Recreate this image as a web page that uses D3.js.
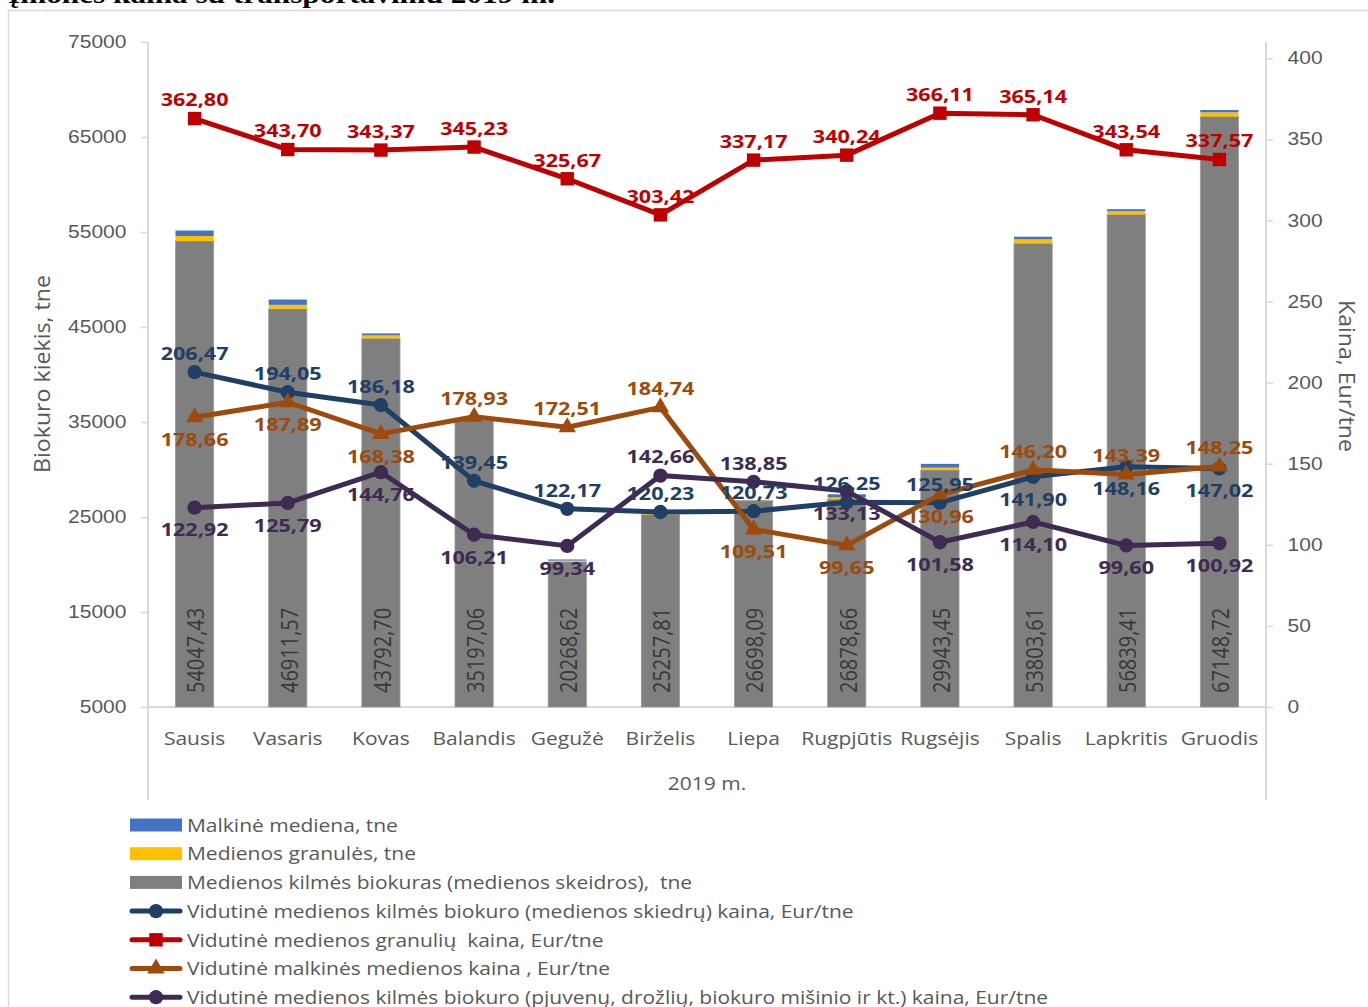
<!DOCTYPE html>
<html>
<head>
<meta charset="utf-8">
<script src="https://cdn.jsdelivr.net/npm/d3@7"></script>
<style>
  body { margin: 0; background: #fff; }
  svg { display: block; font-family: "Open Sans", sans-serif; }
  text { white-space: pre; }
</style>
</head>
<body>
<svg id="chart" width="1368" height="1007"></svg>
<script>
// Data
const months = ['Sausis', 'Vasaris', 'Kovas', 'Balandis', 'Gegužė', 'Birželis', 'Liepa', 'Rugpjūtis', 'Rugsėjis', 'Spalis', 'Lapkritis', 'Gruodis'];

// stacked bars, tne
const skiedros = [54047.43, 46911.57, 43792.70, 35197.06, 20268.62, 25257.81, 26698.09, 26878.66, 29943.45, 53803.61, 56839.41, 67148.72];
const granules = [530, 420, 320, 100, 140, 80, 60, 180, 250, 420, 350, 450];
const malkine = [580, 560, 210, 80, 120, 80, 40, 330, 400, 280, 210, 240];

// prices, Eur/tne
const kainaSkiedru = [206.47, 194.05, 186.18, 139.45, 122.17, 120.23, 120.73, 126.25, 125.95, 141.90, 148.16, 147.02];
const kainaGranuliu = [362.80, 343.70, 343.37, 345.23, 325.67, 303.42, 337.17, 340.24, 366.11, 365.14, 343.54, 337.57];
const kainaMalkines = [178.66, 187.89, 168.38, 178.93, 172.51, 184.74, 109.51, 99.65, 130.96, 146.20, 143.39, 148.25];
const kainaPjuvenu = [122.92, 125.79, 144.76, 106.21, 99.34, 142.66, 138.85, 133.13, 101.58, 114.10, 99.60, 100.92];

// which side of the point each data label sits on (a = above, b = below)
const posSkiedru = ['a', 'a', 'a', 'a', 'a', 'a', 'a', 'a', 'a', 'b', 'b', 'b'];
const posGranuliu = ['a', 'a', 'a', 'a', 'a', 'a', 'a', 'a', 'a', 'a', 'a', 'a'];
const posMalkines = ['b', 'b', 'b', 'a', 'a', 'a', 'b', 'b', 'b', 'a', 'a', 'a'];
const posPjuvenu = ['b', 'b', 'b', 'b', 'b', 'a', 'a', 'b', 'b', 'b', 'b', 'b'];

const leftTicks = [5000, 15000, 25000, 35000, 45000, 55000, 65000, 75000];
const rightTicks = [0, 50, 100, 150, 200, 250, 300, 350, 400];

const SX = 1.2; // the original is horizontally stretched
const axisColor = '#d9d9d9';
const textColor = '#595959';
const fmt = v => d3.format('.2f')(v).replace('.', ',');

const svg = d3.select('#chart');

// clipped title at the very top
svg.append('text')
  .attr('x', 8).attr('y', 3)
  .attr('font-family', '"Liberation Serif", serif')
  .attr('font-weight', 'bold')
  .attr('font-size', 26)
  .attr('textLength', 547)
  .attr('lengthAdjust', 'spacingAndGlyphs')
  .text('Įmonės kaina su transportavimu 2019 m.');

// chart frame
svg.append('rect')
  .attr('x', 8.5).attr('y', 10.5)
  .attr('width', 1400).attr('height', 1050)
  .attr('fill', 'none')
  .attr('stroke', axisColor)
  .attr('stroke-width', 1.5);

const plot = { left: 148, right: 1266, top: 42, bottom: 707 };

const x = d3.scaleBand()
  .domain(months)
  .range([plot.left, plot.right])
  .paddingInner(0.59)
  .paddingOuter(0.295);

const yL = d3.scaleLinear().domain([5000, 75000]).range([plot.bottom, plot.top]);
const yR = d3.scaleLinear().domain([0, 410]).range([plot.bottom, plot.top]);

// axes
function styleAxis(g) {
  g.select('.domain').remove();
  g.selectAll('.tick line').attr('stroke', axisColor).attr('stroke-width', 1.5);
  g.selectAll('.tick text')
    .attr('fill', textColor)
    .attr('font-size', 17.5)
    .attr('transform', `scale(${SX},1)`);
}

svg.append('g')
  .attr('transform', `translate(${plot.left},0)`)
  .call(d3.axisLeft(yL).tickValues(leftTicks).tickSize(7).tickPadding(11).tickFormat(d3.format('d')))
  .call(styleAxis);

svg.append('g')
  .attr('transform', `translate(${plot.right},0)`)
  .call(d3.axisRight(yR).tickValues(rightTicks).tickSize(7).tickPadding(11).tickFormat(d3.format('d')))
  .call(styleAxis);

// axis lines (extend down around the category labels)
[plot.left, plot.right].forEach(xx => {
  svg.append('line')
    .attr('x1', xx).attr('x2', xx)
    .attr('y1', plot.top).attr('y2', 800)
    .attr('stroke', axisColor).attr('stroke-width', 2);
});
svg.append('line')
  .attr('x1', plot.left).attr('x2', plot.right)
  .attr('y1', plot.bottom).attr('y2', plot.bottom)
  .attr('stroke', axisColor).attr('stroke-width', 2);

// stacked bars (axis starts at 5000, gray layer drawn from there)
const stackData = months.map((m, i) => ({ month: m, skiedros: skiedros[i], granules: granules[i], malkine: malkine[i] }));
const stack = d3.stack().keys(['skiedros', 'granules', 'malkine']);
const barColors = { skiedros: '#7f7f7f', granules: '#ffc000', malkine: '#4472c4' };

const layers = stack(stackData);
svg.append('g')
  .selectAll('g')
  .data(layers)
  .join('g')
  .attr('fill', d => barColors[d.key])
  .attr('stroke', d => d.key === 'skiedros' ? '#9a9a9a' : 'none')
  .attr('stroke-width', 0.8)
  .selectAll('rect')
  .data(d => d)
  .join('rect')
  .attr('x', d => x(d.data.month))
  .attr('width', x.bandwidth())
  .attr('y', d => yL(d[1]))
  .attr('height', d => yL(Math.max(d[0], 5000)) - yL(d[1]));

// values inside the gray bars
svg.append('g')
  .selectAll('text')
  .data(stackData)
  .join('text')
  .attr('transform', d => `translate(${x(d.month) + x.bandwidth() / 2},${plot.bottom - 14}) scale(${SX},1) rotate(-90)`)
  .attr('dominant-baseline', 'central')
  .attr('fill', '#383838')
  .attr('font-size', 20)
  .text(d => fmt(d.skiedros));

// category labels
svg.append('g')
  .selectAll('text')
  .data(months)
  .join('text')
  .attr('transform', d => `translate(${x(d) + x.bandwidth() / 2},738) scale(${SX},1)`)
  .attr('text-anchor', 'middle')
  .attr('dominant-baseline', 'central')
  .attr('fill', textColor)
  .attr('font-size', 17.5)
  .text(d => d);

svg.append('text')
  .attr('transform', `translate(${(plot.left + plot.right) / 2},783) scale(${SX},1)`)
  .attr('text-anchor', 'middle')
  .attr('dominant-baseline', 'central')
  .attr('fill', textColor)
  .attr('font-size', 17.5)
  .text('2019 m.');

// axis titles
svg.append('text')
  .attr('transform', 'translate(42,374) rotate(-90)')
  .attr('text-anchor', 'middle')
  .attr('dominant-baseline', 'central')
  .attr('fill', textColor)
  .attr('font-size', 21)
  .attr('textLength', 198)
  .attr('lengthAdjust', 'spacingAndGlyphs')
  .text('Biokuro kiekis, tne');

svg.append('text')
  .attr('transform', 'translate(1347,376) rotate(90)')
  .attr('text-anchor', 'middle')
  .attr('dominant-baseline', 'central')
  .attr('fill', textColor)
  .attr('font-size', 21)
  .attr('textLength', 152)
  .attr('lengthAdjust', 'spacingAndGlyphs')
  .text('Kaina, Eur/tne');

// price lines
const series = [
  { name: 'Vidutinė medienos kilmės biokuro (medienos skiedrų) kaina, Eur/tne', values: kainaSkiedru, pos: posSkiedru, color: '#203f66', marker: 'circle' },
  { name: 'Vidutinė medienos granulių  kaina, Eur/tne', values: kainaGranuliu, pos: posGranuliu, color: '#c00000', marker: 'square' },
  { name: 'Vidutinė malkinės medienos kaina , Eur/tne', values: kainaMalkines, pos: posMalkines, color: '#9e4a0c', marker: 'triangle' },
  { name: 'Vidutinė medienos kilmės biokuro (pjuvenų, drožlių, biokuro mišinio ir kt.) kaina, Eur/tne', values: kainaPjuvenu, pos: posPjuvenu, color: '#3e2a52', marker: 'circle' }
];

const symbols = {
  circle: d3.symbol(d3.symbolCircle, 160),
  square: d3.symbol(d3.symbolSquare, 180),
  triangle: d3.symbol(d3.symbolTriangle, 130)
};

const cx = m => x(m) + x.bandwidth() / 2;
const line = d3.line().x(d => cx(d.month)).y(d => yR(d.value));

series.forEach(s => {
  const pts = months.map((m, i) => ({ month: m, value: s.values[i] }));
  svg.append('path')
    .datum(pts)
    .attr('d', line)
    .attr('fill', 'none')
    .attr('stroke', s.color)
    .attr('stroke-width', 5)
    .attr('stroke-linejoin', 'round');
  svg.append('g')
    .selectAll('path')
    .data(pts)
    .join('path')
    .attr('transform', d => `translate(${cx(d.month)},${yR(d.value)})`)
    .attr('d', symbols[s.marker])
    .attr('fill', s.color);
});

// data labels on top of all lines
series.forEach(s => {
  svg.append('g')
    .selectAll('text')
    .data(months)
    .join('text')
    .attr('transform', (m, i) => `translate(${cx(m)},${yR(s.values[i]) + (s.pos[i] === 'a' ? -19 : 22)}) scale(${SX},1)`)
    .attr('text-anchor', 'middle')
    .attr('dominant-baseline', 'central')
    .attr('fill', s.color)
    .attr('font-size', 18)
    .attr('font-weight', 'bold')
    .text((m, i) => fmt(s.values[i]));
});

// legend
const legendItems = [
  { name: 'Malkinė mediena, tne', type: 'rect', color: barColors.malkine },
  { name: 'Medienos granulės, tne', type: 'rect', color: barColors.granules },
  { name: 'Medienos kilmės biokuras (medienos skeidros),  tne', type: 'rect', color: barColors.skiedros }
].concat(series.map(s => ({ name: s.name, type: 'line', color: s.color, marker: s.marker })));

const legend = svg.append('g')
  .selectAll('g')
  .data(legendItems)
  .join('g')
  .attr('transform', (d, i) => `translate(130,${825 + i * 28.7})`);

legend.filter(d => d.type === 'rect')
  .append('rect')
  .attr('x', 0).attr('y', -6.5)
  .attr('width', 52).attr('height', 13)
  .attr('fill', d => d.color);

legend.filter(d => d.type === 'line')
  .append('line')
  .attr('x1', 2).attr('x2', 50)
  .attr('stroke', d => d.color)
  .attr('stroke-width', 5)
  .attr('stroke-linecap', 'round');

legend.filter(d => d.type === 'line')
  .append('path')
  .attr('transform', 'translate(26,0)')
  .attr('d', d => symbols[d.marker]())
  .attr('fill', d => d.color);

legend.append('text')
  .attr('transform', `translate(57,0) scale(${SX},1)`)
  .attr('dominant-baseline', 'central')
  .attr('fill', textColor)
  .attr('font-size', 17.5)
  .text(d => d.name);
</script>
</body>
</html>
